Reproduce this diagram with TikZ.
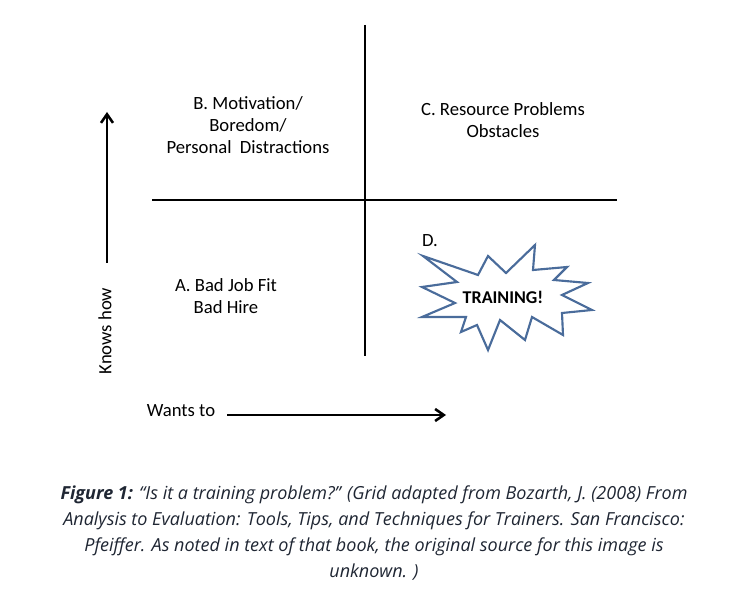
\documentclass[tikz,border=0pt]{standalone}
\usepackage{fontspec}
\setmainfont{Carlito}
\newfontfamily\keteranganfont{Open Sans}
\usetikzlibrary{arrows.meta}
\definecolor{birubintang}{HTML}{4A6C9B}
\definecolor{tintaket}{HTML}{1F2633}

\begin{document}
\begin{tikzpicture}[x=0.75pt,y=-0.75pt,
    garis/.style={line width=2pt},
    sumbu/.style={line width=1.9pt,-{Straight Barb[length=6.5pt,width=9pt]}},
    teks/.style={font=\fontsize{14}{16.5}\selectfont,align=center,inner sep=0pt},
    ledakan/.style={draw=birubintang,line width=1.6pt,line join=miter,fill=white}]
    \useasboundingbox (0,0) rectangle (746,609);

    % titik-titik garis kuadran
    \coordinate (atas)  at (365,25);
    \coordinate (bawah) at (365,356);
    \coordinate (kiri)  at (152,200);
    \coordinate (kanan) at (617,200);

    % pembuatan garis kuadran
    \draw[garis] (atas) -- (bawah);
    \draw[garis] (kiri) -- (kanan);

    % titik-titik sumbu
    \coordinate (Ko) at (107,263);
    \coordinate (Ku) at (107,112);
    \coordinate (Wo) at (227,415);
    \coordinate (Wu) at (446,415);
    \node[teks,rotate=90] (knows) at (105,331) {Knows how};
    \node[teks] (wants) at (181,411) {Wants to};

    % pembuatan sumbu
    \draw[sumbu] (Ko) -- (Ku);
    \draw[sumbu] (Wo) -- (Wu);

    % label kuadran
    \node[teks] (B) at (248,125) {B. Motivation/\\Boredom/\\Personal~ Distractions};
    \node[teks] (C) at (503,120) {C. Resource Problems\\Obstacles};
    \node[teks] (A) at (226,296) {A. Bad Job Fit\\Bad Hire};
    \node[teks] (D) at (430,241) {D.};

    % pembuatan ledakan
    \draw[ledakan] (423,256) -- (478,275) -- (488,256) -- (506,273) -- (535,245)
        -- (533,270) -- (567,267) -- (554,280) -- (588,283) -- (562,295)
        -- (592,310) -- (562,313) -- (563,335) -- (532,317) -- (525,340)
        -- (500,320) -- (488,350) -- (477,325) -- (461,332) -- (466,317)
        -- (422,317) -- (455,303) -- (422,287) -- (457,282) -- cycle;
    \node[teks,font=\fontsize{13.5}{16}\selectfont\bfseries] (T) at (503,297) {TRAINING!};

    % keterangan gambar
    \node[text=tintaket,align=center,inner sep=0pt,
        font=\keteranganfont\itshape\fontsize{13.5}{19.3}\selectfont] (ket) at (374,533)
        {\textbf{Figure 1:} “Is it a training problem?” (Grid adapted from Bozarth, J. (2008) From\\
        Analysis to Evaluation: Tools, Tips, and Techniques for Trainers. San Francisco:\\
        Pfeiffer. As noted in text of that book, the original source for this image is\\
        unknown. )};
\end{tikzpicture}
\end{document}
